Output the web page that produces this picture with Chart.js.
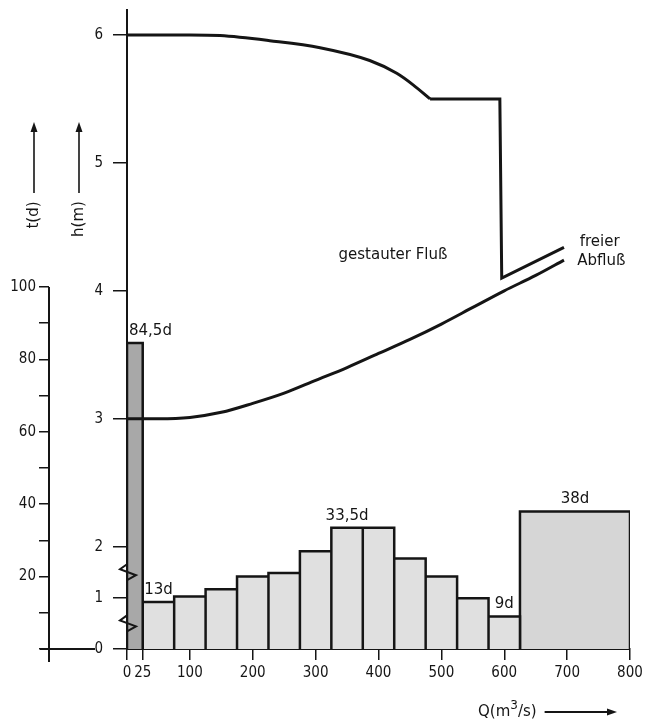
<!DOCTYPE html>
<html>
<head>
<meta charset="utf-8">
<title>Abfluss, Dauer und Wasserstand</title>
<script src="https://cdn.jsdelivr.net/npm/chart.js@4.4.1/dist/chart.umd.min.js"></script>
<style>
  html, body { margin: 0; padding: 0; background: #fff; }
  #wrap { width: 647px; height: 724px; }
</style>
</head>
<body>
<div id="wrap"><canvas id="chart"></canvas></div>
<script>
// Abflussklassen Q (m3/s) und ihre Dauer t (d)
const binEdges = [0, 25, 75, 125, 175, 225, 275, 325, 375, 425, 475, 525, 575, 625, 800];
const binDays = [84.5, 13, 14.5, 16.5, 20, 21, 27, 33.5, 33.5, 25, 20, 14, 9, 38];
const binLabels = ['84,5d', '13d', '', '', '', '', '', '33,5d', '', '', '', '', '9d', '38d'];

// Wasserstand h (m), gestauter Fluss
const stauCurveQ = [0, 100, 148, 227, 307, 386, 429, 455, 482];
const stauCurveH = [6.0, 6.0, 5.995, 5.955, 5.9, 5.8, 5.7, 5.61, 5.5];
const stauStepQ = [482, 593, 596, 695];
const stauStepH = [5.5, 5.5, 4.1, 4.34];

// Wasserstand h (m), freier Abfluss
const freiQ = [0, 50, 100, 150, 200, 250, 300, 350, 400, 450, 500, 550, 600, 650, 695];
const freiH = [3.0, 3.0, 3.01, 3.05, 3.12, 3.2, 3.3, 3.4, 3.51, 3.62, 3.74, 3.87, 4.0, 4.12, 4.24];

// Achsen
const qTicks = [0, 25, 100, 200, 300, 400, 500, 600, 700, 800];
const tTicks = [0, 10, 20, 30, 40, 50, 60, 70, 80, 90, 100];
const tTickLabels = ['', '', '20', '', '40', '', '60', '', '80', '', '100'];
const hTicks = [0, 1, 2, 3, 4, 5, 6];
const hBreaks = [0.5, 1.5];

const tickFont = "'DejaVu Sans Condensed', 'Liberation Sans Narrow', sans-serif";
const textFont = "'DejaVu Sans', sans-serif";
const ink = '#151515';

// h-Achse ist unter 2 m gestaucht
function hPos(h) {
    return h >= 2 ? h : 2 - (2 - h) * 0.4;
}

function histPoints(from, to) {
    const pts = [];
    for (let i = from; i < to; i++) {
        pts.push({ x: binEdges[i], y: 0 }, { x: binEdges[i], y: binDays[i] },
                 { x: binEdges[i + 1], y: binDays[i] }, { x: binEdges[i + 1], y: 0 });
    }
    return pts;
}

function xy(qs, hs) {
    return qs.map((q, i) => ({ x: q, y: hs[i] }));
}

function histSet(from, to, fillColor) {
    return {
        data: histPoints(from, to),
        yAxisID: 't',
        borderColor: ink,
        borderWidth: 2.5,
        borderJoinStyle: 'miter',
        backgroundColor: fillColor,
        fill: 'origin',
        pointRadius: 0,
        tension: 0,
        order: 2
    };
}

function curveSet(data, mode) {
    return {
        data: data,
        yAxisID: 'h',
        borderColor: ink,
        borderWidth: 3,
        borderJoinStyle: 'miter',
        fill: false,
        pointRadius: 0,
        cubicInterpolationMode: mode,
        tension: mode === 'monotone' ? 0.4 : 0,
        order: 1
    };
}

// Skalen sollen keinen eigenen Rand fuer Beschriftungen fordern
function noPadding(s) {
    s.paddingTop = 0;
    s.paddingBottom = 0;
    s.paddingLeft = 0;
    s.paddingRight = 0;
}

function arrow(ctx, x1, y1, x2, y2) {
    const a = Math.atan2(y2 - y1, x2 - x1);
    ctx.beginPath();
    ctx.moveTo(x1, y1);
    ctx.lineTo(x2 - 6 * Math.cos(a), y2 - 6 * Math.sin(a));
    ctx.stroke();
    ctx.beginPath();
    ctx.moveTo(x2, y2);
    ctx.lineTo(x2 - 10 * Math.cos(a) + 3.5 * Math.sin(a), y2 - 10 * Math.sin(a) - 3.5 * Math.cos(a));
    ctx.lineTo(x2 - 10 * Math.cos(a) - 3.5 * Math.sin(a), y2 - 10 * Math.sin(a) + 3.5 * Math.cos(a));
    ctx.closePath();
    ctx.fill();
}

const decoration = {
    id: 'decoration',
    afterDraw(chart) {
        const ctx = chart.ctx;
        const xs = chart.scales.x, ts = chart.scales.t, hs = chart.scales.h;
        const area = chart.chartArea;
        ctx.save();
        ctx.strokeStyle = ink;
        ctx.fillStyle = ink;
        ctx.lineWidth = 2;

        // t-Achse nur von 0 bis 100
        const tx = ts.right;
        const t0 = ts.getPixelForValue(0);
        ctx.beginPath();
        ctx.moveTo(tx, ts.getPixelForValue(100));
        ctx.lineTo(tx, t0 + 13);
        ctx.moveTo(tx - 9, t0);
        ctx.lineTo(tx + 46, t0);
        ctx.stroke();

        // Bruchzeichen auf der h-Achse
        const hx = hs.right;
        hBreaks.forEach(b => {
            const y = hs.getPixelForValue(hPos(b));
            ctx.beginPath();
            ctx.moveTo(hx, y - 8);
            ctx.lineTo(hx - 7, y - 3);
            ctx.lineTo(hx + 9, y + 3);
            ctx.lineTo(hx, y + 8);
            ctx.stroke();
        });

        // Dauer ueber den Balken
        ctx.font = '15px ' + textFont;
        ctx.textBaseline = 'alphabetic';
        binLabels.forEach((lab, i) => {
            if (!lab) return;
            const y = ts.getPixelForValue(binDays[i]) - 8;
            if (i === 0) {
                ctx.textAlign = 'left';
                ctx.fillText(lab, xs.getPixelForValue(binEdges[0]) + 2, y);
            } else {
                ctx.textAlign = 'center';
                ctx.fillText(lab, xs.getPixelForValue((binEdges[i] + binEdges[i + 1]) / 2), y);
            }
        });

        // Beschriftung der Kurven
        ctx.textAlign = 'center';
        ctx.textBaseline = 'middle';
        ctx.fillText('gestauter Fluß', xs.getPixelForValue(423), hs.getPixelForValue(4.28));
        ctx.textAlign = 'left';
        ctx.fillText('freier', xs.getPixelForValue(720), hs.getPixelForValue(4.38));
        ctx.fillText('Abfluß', xs.getPixelForValue(716), hs.getPixelForValue(4.23));

        // Achsentitel links
        ctx.lineWidth = 1.6;
        [[ts.right - 15, 't(d)', 205], [hs.left + 30, 'h(m)', 209]].forEach(([x, txt, yc]) => {
            ctx.save();
            ctx.translate(x, area.top + yc);
            ctx.rotate(-Math.PI / 2);
            ctx.textAlign = 'center';
            ctx.textBaseline = 'middle';
            ctx.fillText(txt, 0, 0);
            ctx.restore();
            arrow(ctx, x, area.top + 183, x, area.top + 112);
        });

        // Achsentitel unten
        const by = area.bottom + 67;
        let bx = area.right - 152;
        ctx.textAlign = 'left';
        ctx.textBaseline = 'alphabetic';
        ctx.font = '15px ' + textFont;
        ctx.fillText('Q(m', bx, by);
        bx += ctx.measureText('Q(m').width;
        ctx.font = '12px ' + textFont;
        ctx.fillText('3', bx, by - 7);
        bx += ctx.measureText('3').width;
        ctx.font = '15px ' + textFont;
        ctx.fillText('/s)', bx, by);
        bx += ctx.measureText('/s)').width;
        ctx.lineWidth = 2;
        arrow(ctx, bx + 8, by - 4, area.right - 13, by - 4);

        ctx.restore();
    }
};

Chart.defaults.animation = false;

new Chart(document.getElementById('chart'), {
    type: 'line',
    data: {
        datasets: [
            histSet(0, 1, '#a8a8a8'),
            histSet(1, 13, '#e0e0e0'),
            histSet(13, 14, '#d6d6d6'),
            curveSet(xy(stauCurveQ, stauCurveH), 'monotone'),
            curveSet(xy(stauStepQ, stauStepH), 'default'),
            curveSet(xy(freiQ, freiH), 'monotone')
        ]
    },
    options: {
        responsive: true,
        maintainAspectRatio: false,
        layout: { padding: { left: 0, right: 17, top: 10, bottom: 0 } },
        plugins: {
            legend: { display: false },
            tooltip: { enabled: false }
        },
        scales: {
            x: {
                type: 'linear',
                min: 0,
                max: 800,
                afterBuildTicks: s => { s.ticks = qTicks.map(v => ({ value: v })); },
                afterFit: s => { s.height = 75; noPadding(s); },
                ticks: {
                    color: ink,
                    font: { family: tickFont, size: 15 },
                    padding: 4,
                    maxRotation: 0,
                    autoSkip: false,
                    callback: v => String(v)
                },
                grid: { drawOnChartArea: false, tickLength: 11, color: ink, lineWidth: 1.5 },
                border: { display: true, color: ink, width: 2 }
            },
            t: {
                axis: 'y',
                type: 'linear',
                position: 'left',
                weight: 1,
                min: 0,
                max: 176.5,
                afterBuildTicks: s => { s.ticks = tTicks.map(v => ({ value: v })); },
                afterFit: s => { s.width = 49; noPadding(s); },
                ticks: {
                    color: ink,
                    font: { family: tickFont, size: 15 },
                    padding: 3,
                    autoSkip: false,
                    callback: (v, i) => tTickLabels[i]
                },
                grid: { drawOnChartArea: false, tickLength: 10, color: ink, lineWidth: 1.5 },
                border: { display: false }
            },
            h: {
                axis: 'y',
                type: 'linear',
                position: 'left',
                weight: 0,
                min: hPos(0),
                max: 6.195,
                afterBuildTicks: s => { s.ticks = hTicks.map(v => ({ value: hPos(v) })); },
                afterFit: s => { s.width = 78; noPadding(s); },
                ticks: {
                    color: ink,
                    font: { family: tickFont, size: 15 },
                    padding: 10,
                    autoSkip: false,
                    callback: (v, i) => String(hTicks[i])
                },
                grid: { drawOnChartArea: false, tickLength: 14, color: ink, lineWidth: 1.5 },
                border: { display: true, color: ink, width: 2 }
            }
        }
    },
    plugins: [decoration]
});
</script>
</body>
</html>
